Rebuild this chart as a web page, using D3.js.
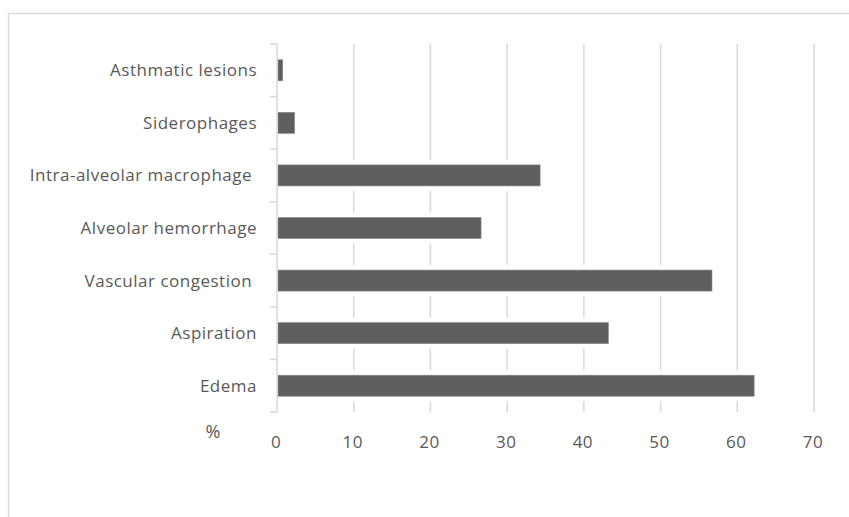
<!DOCTYPE html>
<html>
<head>
<meta charset="utf-8">
<script src="https://cdn.jsdelivr.net/npm/d3@7"></script>
<style>
  body { margin: 0; background: #fff; }
  text { font-family: "Open Sans", "Liberation Sans", sans-serif; fill: #595959; white-space: pre; }
</style>
</head>
<body>
<script>
// findings, top to bottom as shown (two labels carry a trailing space in the source)
var categories = ["Asthmatic lesions", "Siderophages", "Intra-alveolar macrophage ", "Alveolar hemorrhage",
                  "Vascular congestion ", "Aspiration", "Edema"];
var values = [0.75, 2.3, 34.3, 26.6, 56.7, 43.2, 62.2];
var xTicks = [0, 10, 20, 30, 40, 50, 60, 70];

var W = 849, H = 517;
var plot = { left: 277, right: 814, top: 44, bottom: 412 };

var svg = d3.select("body").append("svg")
  .attr("width", W)
  .attr("height", H);

// chart border (cut off at right and bottom)
svg.append("rect")
  .attr("x", 8.5).attr("y", 13.5)
  .attr("width", 1000).attr("height", 1000)
  .attr("fill", "none")
  .attr("stroke", "#d9d9d9")
  .attr("stroke-width", 1.5);

var x = d3.scaleLinear().domain([0, 70]).range([plot.left, plot.right]);
var y = d3.scaleBand().domain(categories).range([plot.top, plot.bottom])
  .paddingInner(0.6).paddingOuter(0.3);

// gridlines
svg.append("g").selectAll("line")
  .data(xTicks.slice(1))
  .enter().append("line")
  .attr("x1", d => x(d)).attr("x2", d => x(d))
  .attr("y1", plot.top).attr("y2", plot.bottom)
  .attr("stroke", "#d9d9d9")
  .attr("stroke-width", 1.5);

var data = categories.map((c, i) => ({ name: c, value: values[i] }));

// white gap around each bar
svg.append("g").selectAll("rect")
  .data(data)
  .enter().append("rect")
  .attr("x", x(0) + 1)
  .attr("y", d => y(d.name) - 5)
  .attr("width", d => x(d.value) - x(0))
  .attr("height", y.bandwidth() + 10)
  .attr("fill", "#fff");

// bars
svg.append("g").selectAll("rect")
  .data(data)
  .enter().append("rect")
  .attr("x", x(0) + 1)
  .attr("y", d => y(d.name))
  .attr("width", d => x(d.value) - x(0) - 1)
  .attr("height", y.bandwidth())
  .attr("fill", "#5f5f5f")
  .attr("stroke", "#8a8a8a")
  .attr("stroke-width", 0.6);

// category axis
var bounds = categories.map(c => y(c) - y.step() * y.paddingInner() / 2);
bounds[0] = plot.top;
bounds.push(plot.bottom);

var ax = svg.append("g");
ax.append("line")
  .attr("x1", plot.left).attr("x2", plot.left)
  .attr("y1", plot.top).attr("y2", plot.bottom)
  .attr("stroke", "#d9d9d9").attr("stroke-width", 1.5);
ax.selectAll(".tk")
  .data(bounds)
  .enter().append("line")
  .attr("class", "tk")
  .attr("x1", plot.left - 7).attr("x2", plot.left)
  .attr("y1", d => d).attr("y2", d => d)
  .attr("stroke", "#d9d9d9").attr("stroke-width", 1.5);

ax.selectAll("text")
  .data(categories)
  .enter().append("text")
  .attr("x", 257)
  .attr("y", d => y(d) + y.bandwidth() / 2)
  .attr("dy", "0.35em")
  .attr("text-anchor", "end")
  .attr("font-size", "17px")
  .attr("letter-spacing", "0.5px")
  .text(d => d);

// value tick labels
svg.append("g").selectAll("text")
  .data(xTicks)
  .enter().append("text")
  .attr("x", d => x(d) - 1)
  .attr("y", 442)
  .attr("dy", "0.35em")
  .attr("text-anchor", "middle")
  .attr("font-size", "17px")
  .attr("letter-spacing", "0.5px")
  .text(d => d);

svg.append("text")
  .attr("x", 213)
  .attr("y", 432)
  .attr("dy", "0.35em")
  .attr("text-anchor", "middle")
  .attr("font-size", "18px")
  .text("%");
</script>
</body>
</html>
